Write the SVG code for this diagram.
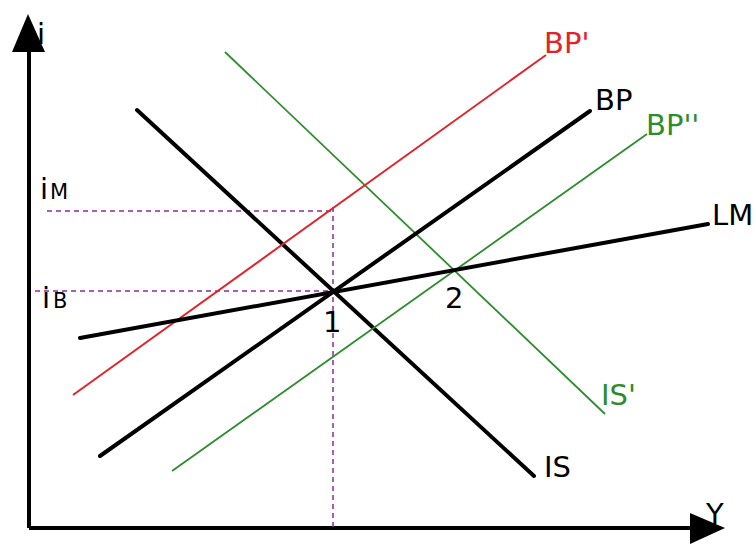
<svg xmlns="http://www.w3.org/2000/svg" width="756" height="547" viewBox="0 0 756 547">
<style>
.t{font-family:"DejaVu Sans",Verdana,sans-serif;font-size:29px}
.axis{stroke:#000;stroke-width:4;fill:none}
.blk{stroke:#000;stroke-width:4;stroke-linecap:round;fill:none}
.red{stroke:#e0242b;stroke-width:2;fill:none}
.grn{stroke:#2e8b2e;stroke-width:1.8;fill:none}
.dash{stroke:#8a2a9a;stroke-width:1.5;stroke-dasharray:5,4;fill:none}
</style>
<rect width="756" height="547" fill="#fff"/>
<g id="axes">
<path class="axis" d="M29,528 V45 M29,528 H695"/>
<polygon points="28,14 12,52 45,52" fill="#000"/>
<polygon points="725,528 690,513 690,544" fill="#000"/>
<text class="t" x="37" y="44" font-size="24">i</text>
<text class="t" x="706" y="524" font-size="22">Y</text>
</g>
<g id="guides">
<path class="dash" d="M47,211 H333 M35,291 H333 M333,207 V528"/>
<text class="t" x="40" y="199" font-size="24">i<tspan dx="2" font-size="21">M</tspan></text>
<text class="t" x="42" y="308" font-size="24">i<tspan dx="3" font-size="21">B</tspan></text>
</g>
<g id="connectors">
<line id="IS" class="blk" x1="137" y1="110" x2="534" y2="476"/>
<line id="ISp" class="grn" x1="225" y1="52" x2="605" y2="414"/>
<line id="BP" class="blk" x1="100" y1="456" x2="590" y2="111"/>
<line id="BPp" class="red" x1="73" y1="395" x2="546" y2="55"/>
<line id="BPpp" class="grn" x1="172" y1="471" x2="647" y2="134"/>
<line id="LM" class="blk" x1="80" y1="338" x2="708" y2="224"/>
</g>
<g id="labels">
<text class="t" x="544" y="477">IS</text>
<text class="t" x="601" y="405" fill="#2e8b2e">IS'</text>
<text class="t" x="595" y="110">BP</text>
<text class="t" x="544" y="53" fill="#e0242b">BP'</text>
<text class="t" x="646" y="135" fill="#2e8b2e">BP''</text>
<text class="t" x="712" y="225">LM</text>
<text class="t" x="323" y="332">1</text>
<text class="t" x="445" y="308">2</text>
</g>
</svg>
